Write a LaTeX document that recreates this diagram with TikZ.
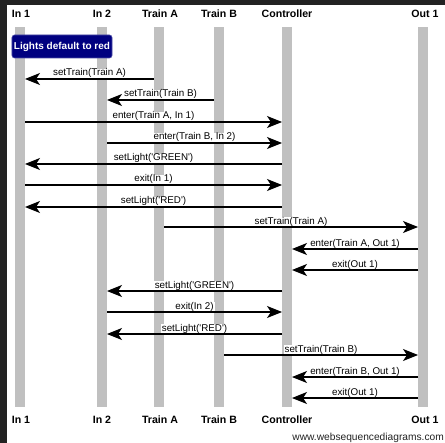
\documentclass[tikz,border=0pt]{standalone}
\usepackage{fontspec}
\setmainfont{Liberation Sans}
\usetikzlibrary{arrows.meta,calc}
\definecolor{barc}{HTML}{C0C0C0}
\definecolor{notec}{HTML}{000080}
\definecolor{framec}{HTML}{222222}
\newcommand\msgright[4]{\draw[msg] ($(#1)+(5,#3)$) -- node[lbl]{#4} ($(#2)+(-5,#3)$);}
\newcommand\msgleft[4]{\draw[msg] ($(#1)+(-5,#3)$) -- node[lbl]{#4} ($(#2)+(5,#3)$);}
\newcommand\sq{\textquotesingle}
\begin{document}
\begin{tikzpicture}[x=1bp,y=-1bp,
  lifebar/.style={fill=barc},
  hdr/.style={anchor=base,inner sep=0pt,font=\fontsize{10.6bp}{12bp}\selectfont\bfseries},
  lbl/.style={midway,anchor=base,yshift=3bp,fill=white,inner xsep=1bp,inner ysep=0pt,font=\fontsize{9.8bp}{11bp}\selectfont},
  msg/.style={line width=1.1bp,-{Stealth[length=15bp,width=12bp,inset=4bp]}},
  notebox/.style={fill=notec,draw=notec!70!white,line width=0.6bp,rounded corners=2.5bp,minimum width=100bp,minimum height=23bp,inner sep=0pt,text=white,font=\fontsize{10bp}{12bp}\selectfont\bfseries}]
\useasboundingbox (0,0) rectangle (445,443);
\fill[white] (0,0) rectangle (445,443);
\fill[framec] (0,0) rectangle (7,443);
\fill[framec] (0,0) rectangle (445,5);
% lifeline positions
\coordinate (in1) at (20,0);
\coordinate (in2) at (102,0);
\coordinate (tA) at (159,0);
\coordinate (tB) at (219,0);
\coordinate (ctl) at (287,0);
\coordinate (out1) at (423,0);
% bars
\foreach \p in {in1,in2,tA,tB,ctl,out1}{
  \fill[lifebar] ($(\p)+(-5,27)$) rectangle ($(\p)+(5,407)$);
}
% headers
\node[hdr] (hin1) at ($(in1)+(1,17.5)$) {In 1};
\node[hdr] (hin2) at ($(in2)+(0,17.5)$) {In 2};
\node[hdr] (htA) at ($(tA)+(1,17.5)$) {Train A};
\node[hdr] (htB) at ($(tB)+(0,17.5)$) {Train B};
\node[hdr] (hctl) at ($(ctl)+(0,17.5)$) {Controller};
\node[hdr] (hout1) at ($(out1)+(2,17.5)$) {Out 1};
\node[hdr] (fin1) at ($(in1)+(1,423)$) {In 1};
\node[hdr] (fin2) at ($(in2)+(0,423)$) {In 2};
\node[hdr] (ftA) at ($(tA)+(1,423)$) {Train A};
\node[hdr] (ftB) at ($(tB)+(0,423)$) {Train B};
\node[hdr] (fctl) at ($(ctl)+(0,423)$) {Controller};
\node[hdr] (fout1) at ($(out1)+(2,423)$) {Out 1};
% note
\node[notebox] (note) at (62,46.5) {Lights default to red};
% messages
\msgleft{tA}{in1}{79}{setTrain(Train A)}
\msgleft{tB}{in2}{100}{setTrain(Train B)}
\msgright{in1}{ctl}{122}{enter(Train A, In 1)}
\msgright{in2}{ctl}{143}{enter(Train B, In 2)}
\msgleft{ctl}{in1}{164}{setLight(\sq GREEN\sq)}
\msgright{in1}{ctl}{185}{exit(In 1)}
\msgleft{ctl}{in1}{207}{setLight(\sq RED\sq)}
\msgright{tA}{out1}{227}{setTrain(Train A)}
\msgleft{out1}{ctl}{249}{enter(Train A, Out 1)}
\msgleft{out1}{ctl}{270}{exit(Out 1)}
\msgleft{ctl}{in2}{291}{setLight(\sq GREEN\sq)}
\msgright{in2}{ctl}{312}{exit(In 2)}
\msgleft{ctl}{in2}{334}{setLight(\sq RED\sq)}
\msgright{tB}{out1}{355}{setTrain(Train B)}
\msgleft{out1}{ctl}{377}{enter(Train B, Out 1)}
\msgleft{out1}{ctl}{398}{exit(Out 1)}
% footer
\node[anchor=base east,inner sep=0pt,text=framec,font=\fontsize{10.2bp}{12bp}\selectfont] (credit) at (444,440) {www.websequencediagrams.com};
\end{tikzpicture}
\end{document}
